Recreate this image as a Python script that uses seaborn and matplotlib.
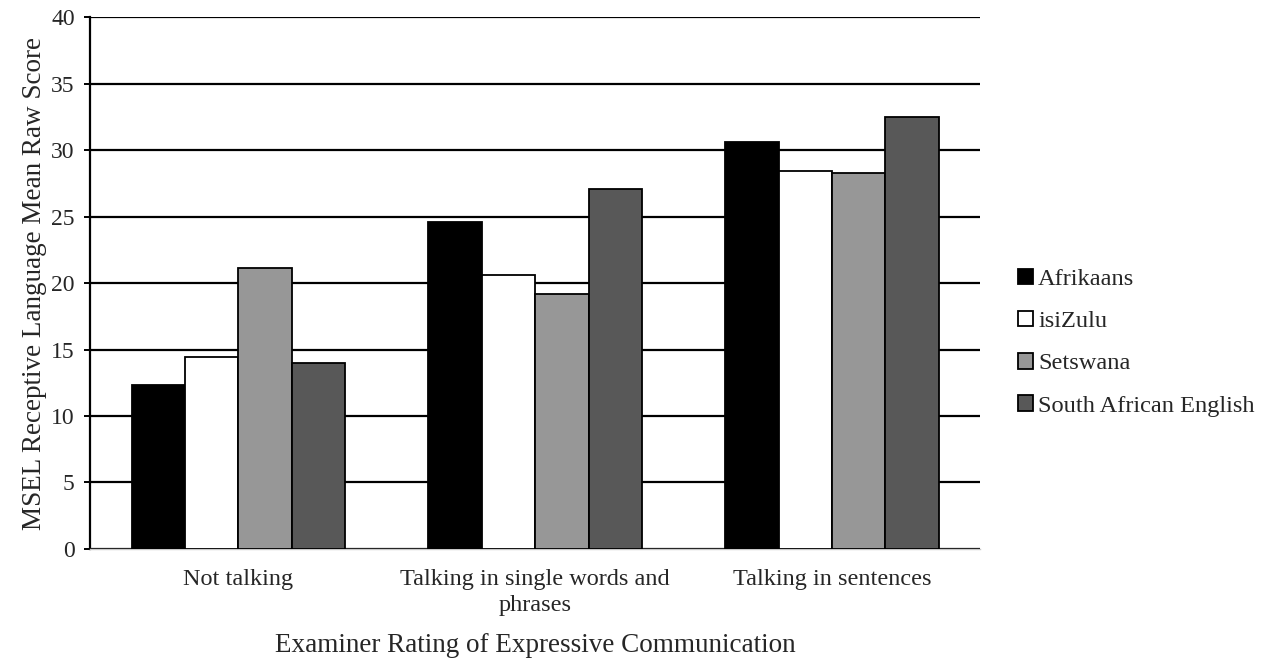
import matplotlib
matplotlib.use("Agg")
import matplotlib.pyplot as plt
import numpy as np
import pandas as pd
import seaborn as sns

# Datos
categories = ["Not talking", "Talking in single words and\nphrases", "Talking in sentences"]
languages = ["Afrikaans", "isiZulu", "Setswana", "South African English"]
afrikaans = [12.35, 24.6, 30.6]
isizulu = [14.4, 20.6, 28.4]
setswana = [21.15, 19.2, 28.3]
sa_english = [14.0, 27.05, 32.5]
yticks = [0, 5, 10, 15, 20, 25, 30, 35, 40]

series = [afrikaans, isizulu, setswana, sa_english]
df = pd.DataFrame({
    "rating": categories * len(languages),
    "language": np.repeat(languages, len(categories)),
    "score": np.concatenate(series),
})

colors = {
    "Afrikaans": "#000000",
    "isiZulu": "#ffffff",
    "Setswana": "#979797",
    "South African English": "#585858",
}

sns.set_style("white")
plt.rcParams["font.family"] = ["Liberation Serif", "DejaVu Serif"]

fig = plt.figure(figsize=(12.74, 6.59), dpi=100)
ax = fig.add_axes([0.0706, 0.167, 0.699, 0.807])

sns.barplot(data=df, x="rating", y="score", hue="language", order=categories,
            hue_order=languages, palette=colors, width=0.72, errorbar=None,
            edgecolor="black", linewidth=1.3, saturation=1, ax=ax, zorder=3)

# Rejilla y ejes
ax.set_ylim(0, 40)
ax.set_yticks(yticks)
ax.yaxis.grid(True, color="black", linewidth=1.6, zorder=0)
ax.set_axisbelow(True)
for side in ["top", "right"]:
    ax.spines[side].set_visible(False)
ax.spines["left"].set_color("black")
ax.spines["left"].set_linewidth(1.6)
ax.spines["bottom"].set_color("#c8c8c8")
ax.spines["bottom"].set_linewidth(1.0)

ax.tick_params(axis="y", which="major", left=True, length=4, width=1.4,
               color="black", labelsize=17, pad=7)
ax.tick_params(axis="x", which="major", bottom=False, labelsize=17.5, pad=11)
for lab in ax.get_xticklabels():
    lab.set_linespacing(1.3)

ax.set_xlabel("Examiner Rating of Expressive Communication", fontsize=19.5, labelpad=12)
ax.set_ylabel("MSEL Receptive Language Mean Raw Score", fontsize=19.5, labelpad=3)

ax.legend(loc="center left", bbox_to_anchor=(1.018, 0.388), frameon=False,
          fontsize=17.6, handlelength=0.6, handleheight=0.6, handletextpad=0.2,
          labelspacing=0.85)

plt.savefig("out.png", dpi=100)
